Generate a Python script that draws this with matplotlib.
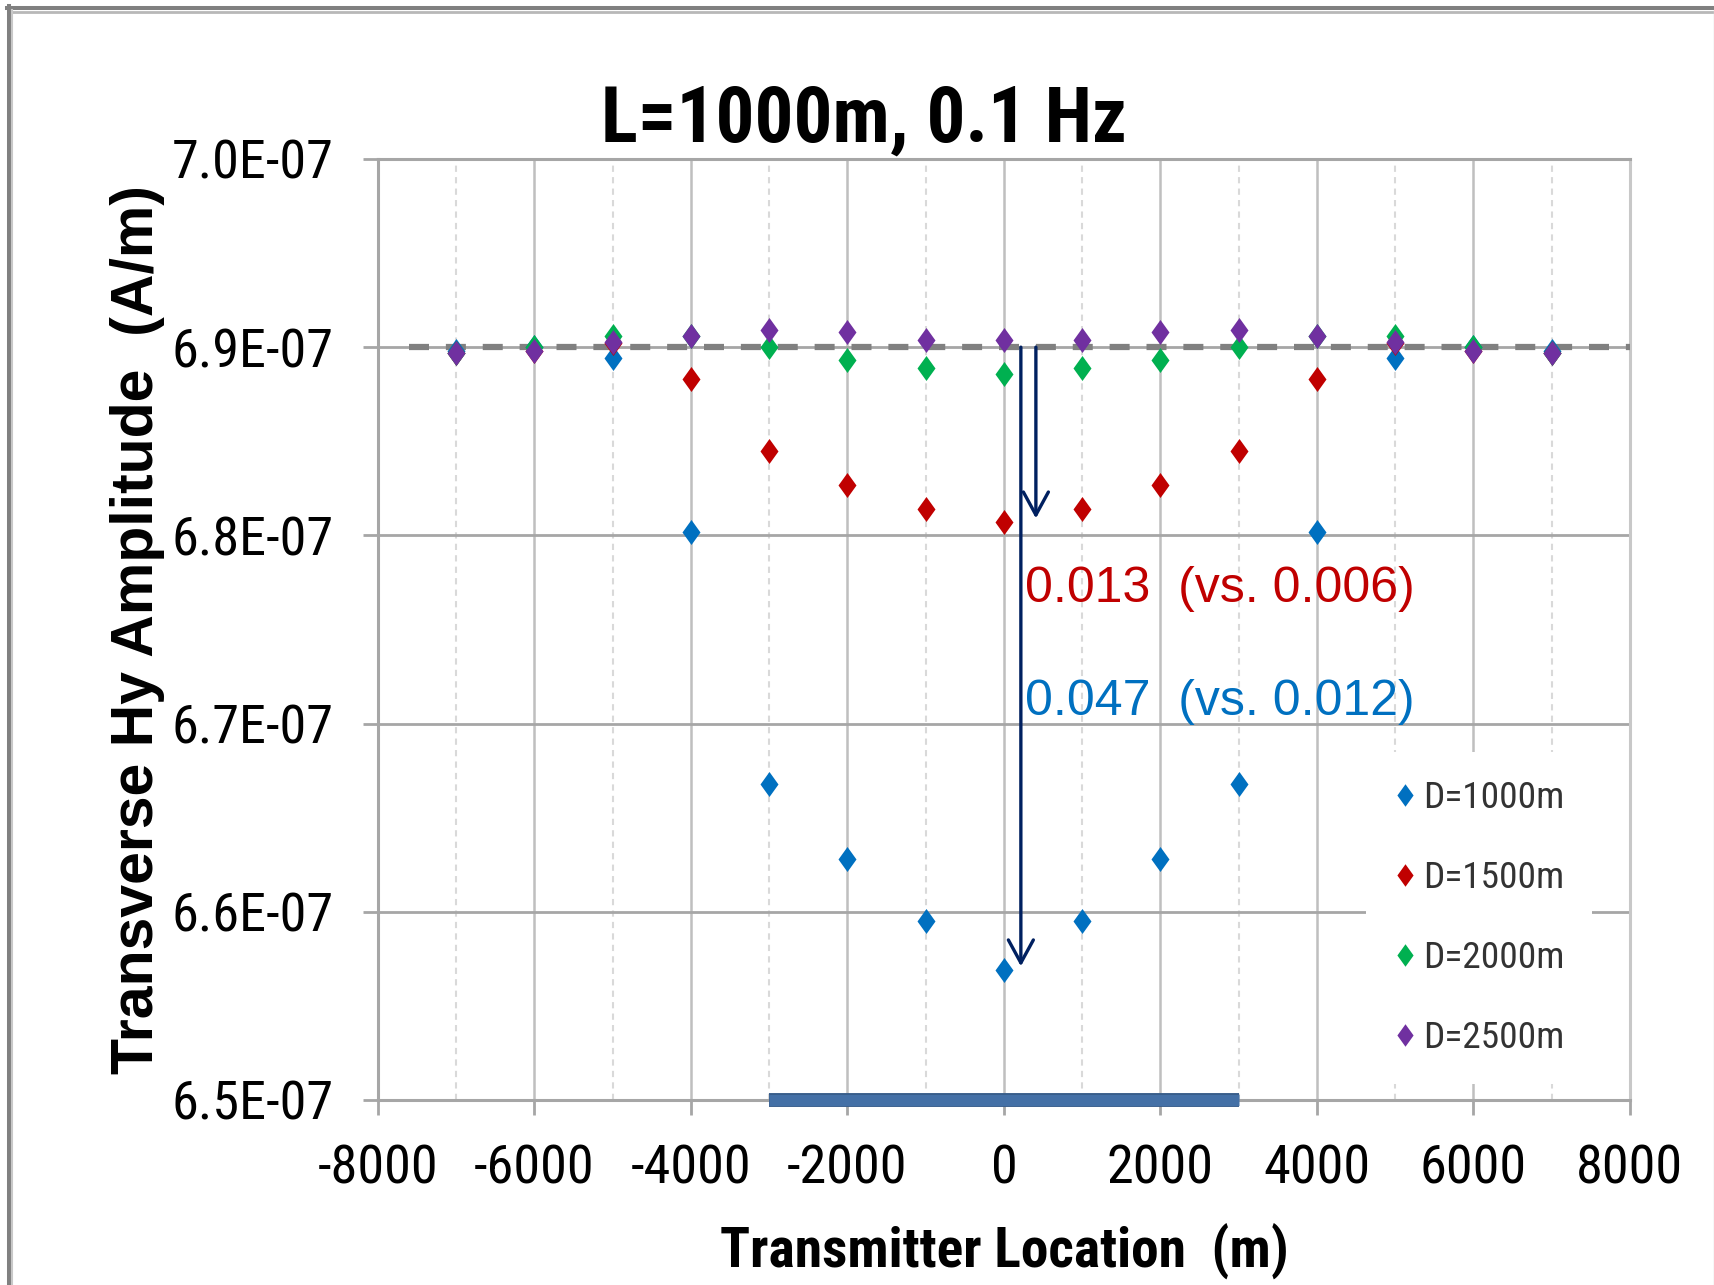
import os
import matplotlib
matplotlib.use('Agg')
import matplotlib.pyplot as plt
from matplotlib import font_manager as fm
from matplotlib.font_manager import FontProperties
from matplotlib.lines import Line2D
import matplotlib.patheffects as pe

# ---------------- data ----------------
x_loc = [-7000, -6000, -5000, -4000, -3000, -2000, -1000, 0,
         1000, 2000, 3000, 4000, 5000, 6000, 7000]

# amplitudes in units of 1e-7 A/m
d1000 = [6.898, 6.900, 6.894, 6.802, 6.668, 6.628, 6.595, 6.569,
         6.595, 6.628, 6.668, 6.802, 6.894, 6.900, 6.898]
d1500 = [6.897, 6.898, 6.902, 6.883, 6.845, 6.827, 6.814, 6.807,
         6.814, 6.827, 6.845, 6.883, 6.902, 6.898, 6.897]
d2000 = [6.897, 6.900, 6.906, 6.906, 6.900, 6.893, 6.889, 6.886,
         6.889, 6.893, 6.900, 6.906, 6.906, 6.900, 6.897]
d2500 = [6.897, 6.898, 6.903, 6.906, 6.909, 6.908, 6.904, 6.904,
         6.904, 6.908, 6.909, 6.906, 6.903, 6.898, 6.897]

series_values = [d1000, d1500, d2000, d2500]
series_labels = ['D=1000m', 'D=1500m', 'D=2000m', 'D=2500m']
series_colors = ['#0070C0', '#C00000', '#00B050', '#7030A0']

x_ticks = [-8000, -6000, -4000, -2000, 0, 2000, 4000, 6000, 8000]
x_minor = [-7000, -5000, -3000, -1000, 1000, 3000, 5000, 7000]
y_ticks = [6.5e-7, 6.6e-7, 6.7e-7, 6.8e-7, 6.9e-7, 7.0e-7]
y_tick_labels = ['6.5E-07', '6.6E-07', '6.7E-07', '6.8E-07', '6.9E-07', '7.0E-07']

reference_level = 6.9e-7
reference_span = [-7600, 8000]
source_span = [-3000, 3000]
arrow_x = [216, 408]
arrow_tip = [6.571e-7, 6.809e-7]
note_x = 270
note_y = [6.7644e-7, 6.7045e-7]
note_text = ['0.013  (vs. 0.006)', '0.047  (vs. 0.012)']
note_colors = ['#C00000', '#0070C0']

title_text = 'L=1000m, 0.1 Hz'
xlabel_text = 'Transmitter Location  (m)'
ylabel_text = 'Transverse Hy Amplitude  (A/m)'

# ---------------- fonts ----------------
BAD = ('italic', 'oblique', 'semi', 'extra', 'light', 'medium', 'black', 'thin')


def find_font(keys, bold):
    for key in keys:
        for f in fm.fontManager.ttflist:
            base = os.path.basename(f.fname).lower()
            if key in base and (('bold' in base) == bold) and not any(b in base for b in BAD):
                return f.fname
    return None


keys = ['liberationsansnarrow', 'arialn', 'robotocondensed', 'roboto-condensed',
        'notosans-condensed', 'opensans-condensed', 'opensanscondensed']
narrow_reg = find_font(keys, False)
narrow_bold = find_font(keys, True)
fp_reg = FontProperties(fname=narrow_reg) if narrow_reg else FontProperties(family='Liberation Sans')
fp_bold = (FontProperties(fname=narrow_bold) if narrow_bold
           else FontProperties(family='Liberation Sans', weight='bold'))
plt.rcParams['font.family'] = ['Liberation Sans', 'DejaVu Sans']

# ---------------- figure ----------------
W, H = 1715, 1285
DPI = 100
fig = plt.figure(figsize=(W / DPI, H / DPI), dpi=DPI)
ax = fig.add_axes([0.2204, 0.1440, 0.7300, 0.7323])
renderer = fig.canvas.get_renderer()


def fit_size(s, fp, target_px):
    f = fp.copy()
    f.set_size(10)
    w, _, _ = renderer.get_text_width_height_descent(s, f, ismath=False)
    return 10.0 * target_px / w


def sized(fp, size):
    f = fp.copy()
    f.set_size(size)
    return f


tick_size = 0.5 * (fit_size('7.0E-07', fp_reg, 163) + fit_size('-8000', fp_reg, 118))
legend_size = fit_size('D=1000m', fp_reg, 140)
title_size = fit_size(title_text, fp_bold, 525)
xlabel_size = fit_size(xlabel_text, fp_bold, 569)

diamond = [(0, 1), (0.72, 0), (0, -1), (-0.72, 0), (0, 1)]
for vals, lab, col in zip(series_values, series_labels, series_colors):
    ax.plot(x_loc, [v * 1e-7 for v in vals], ls='none', marker=diamond, ms=18,
            color=col, mec='none', label=lab, zorder=5)

ax.set_xlim(x_ticks[0], x_ticks[-1])
ax.set_ylim(y_ticks[0], y_ticks[-1])
ax.set_xticks(x_ticks)
ax.set_xticklabels([str(v) for v in x_ticks])
ax.set_xticks(x_minor, minor=True)
ax.set_yticks(y_ticks)
ax.set_yticklabels(y_tick_labels)
for tl in ax.get_xticklabels() + ax.get_yticklabels():
    tl.set_fontproperties(sized(fp_reg, tick_size))
    tl.set_color('black')

ax.tick_params(axis='both', which='major', length=11, width=2, color='#A6A6A6',
               direction='out')
ax.tick_params(axis='x', which='major', pad=20)
ax.tick_params(axis='y', which='major', pad=21)
ax.tick_params(which='minor', length=0)

ax.grid(True, which='major', axis='y', color='#A6A6A6', lw=2.0)
ax.grid(True, which='major', axis='x', color='#BFBFBF', lw=1.8)
ax.grid(True, which='minor', axis='x', color='#D9D9D9', lw=1.5, ls=(0, (3, 2.5)))
ax.set_axisbelow(True)

for s in ax.spines.values():
    s.set_color('#A6A6A6')
    s.set_linewidth(2.2)
ax.spines['right'].set_color('#C8C8C8')

# reference dashed line
ax.plot(reference_span, [reference_level, reference_level], color='#808080', lw=4.5,
        ls=(0, (3.2, 2.7)), zorder=4)

# source bar on the bottom axis
ax.plot(source_span, [y_ticks[0], y_ticks[0]], color='#4470A6', lw=8,
        solid_capstyle='butt', clip_on=False, zorder=6,
        path_effects=[pe.Stroke(linewidth=10, foreground='#385D8A'), pe.Normal()])

# arrows
for xa, tip in zip(arrow_x, arrow_tip):
    ax.annotate('', xy=(xa, tip), xytext=(xa, reference_level),
                arrowprops=dict(arrowstyle='->,head_length=0.55,head_width=0.3',
                                color='#002060', lw=2.4, shrinkA=0, shrinkB=0,
                                mutation_scale=30), zorder=7)

for ty, txt, col in zip(note_y, note_text, note_colors):
    ax.text(note_x, ty, txt, color=col, fontsize=36, family=['Liberation Sans', 'DejaVu Sans'],
            ha='left', va='baseline', zorder=8)

# labels
ax.set_xlabel(xlabel_text, fontproperties=sized(fp_bold, xlabel_size))
ax.xaxis.set_label_coords(0.5, -0.1775)
ax.xaxis.label.set_va('baseline')
ax.set_ylabel(ylabel_text, fontsize=42.5, fontweight='bold',
              family=['Liberation Sans', 'DejaVu Sans'])
ax.yaxis.set_label_coords(-0.180, 0.5)
ax.yaxis.label.set_va('baseline')

fig.text(0.504, 0.8895, title_text, ha='center', va='baseline',
         fontproperties=sized(fp_bold, title_size))

# legend geometry (pixels of the reference)
E = legend_size * DPI / 72.0
row_h = 0.92 * E
labelspacing = 78.5 / E - 0.92
borderpad = max(0.05, (45.0 - row_h / 2) / E)
handlelength = 0.6
frame_left_px = 1405 - (handlelength / 2 + borderpad) * E
ax_left_px, ax_w_px = 0.2204 * W, 0.7300 * W
ax_bot_px, ax_h_px = 0.1440 * H, 0.7323 * H
anchor_x = (frame_left_px - ax_left_px) / ax_w_px
anchor_y = ((H - 752) - ax_bot_px) / ax_h_px
text_left_gap = (1423 - (1405 + handlelength / 2 * E)) / E

leg = ax.legend(loc='upper left', bbox_to_anchor=(anchor_x, anchor_y), borderaxespad=0,
                frameon=True, facecolor='white', edgecolor='none', framealpha=1,
                fancybox=False, prop=sized(fp_reg, legend_size),
                handlelength=handlelength, handletextpad=max(0.05, text_left_gap),
                borderpad=borderpad, labelspacing=labelspacing, markerscale=0.9,
                labelcolor='#333333')
leg.set_zorder(9)

# outer frame of the picture
fig.add_artist(Line2D([7 / W, 1], [1 - 8 / H] * 2, transform=fig.transFigure,
                      color='#808080', lw=2.9))
fig.add_artist(Line2D([12 / W, 1], [1 - 11.5 / H] * 2, transform=fig.transFigure,
                      color='#B8B8B8', lw=2.0))
fig.add_artist(Line2D([9 / W] * 2, [0, 1 - 6 / H], transform=fig.transFigure,
                      color='#808080', lw=2.9))
fig.add_artist(Line2D([12.5 / W] * 2, [0, 1 - 10 / H], transform=fig.transFigure,
                      color='#C8C8C8', lw=1.5))
fig.add_artist(Line2D([1 - 1 / W] * 2, [0, 1 - 10 / H], transform=fig.transFigure,
                      color='#D9D9D9', lw=1.0))

fig.savefig('out.png', dpi=DPI)
